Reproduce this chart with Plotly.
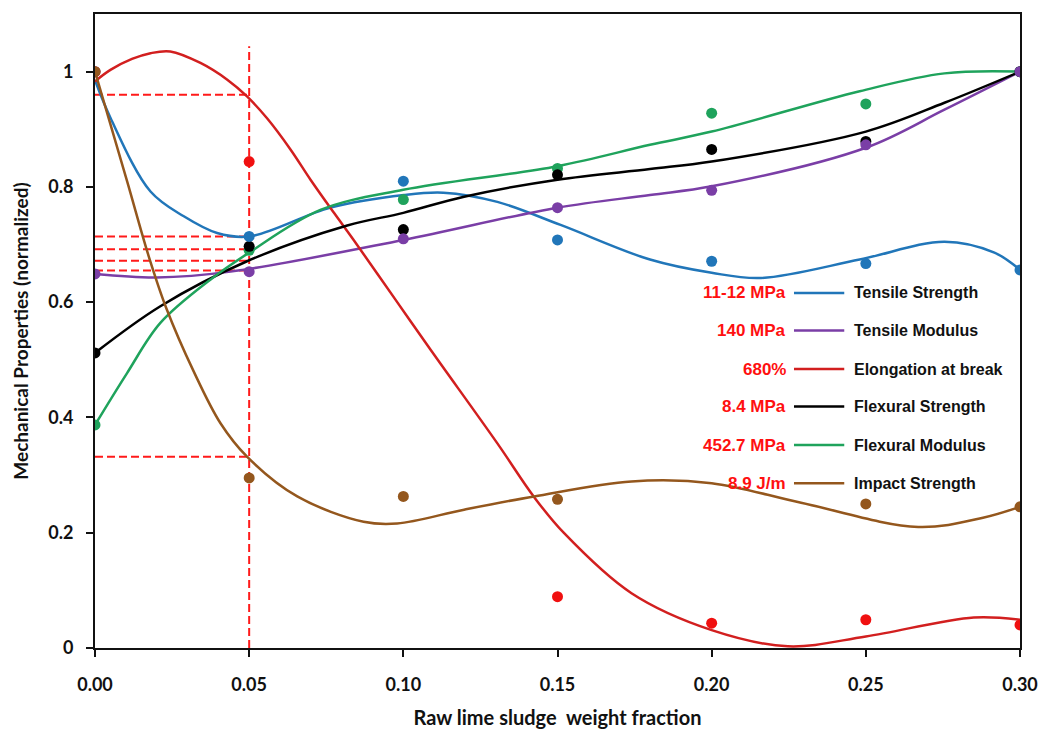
import plotly.graph_objects as go

# ---- measured data points (normalized) ----
x_frac = [0.00, 0.05, 0.10, 0.15, 0.20, 0.25, 0.30]
tensile_strength = [1.0, 0.714, 0.810, 0.708, 0.671, 0.667, 0.656]
tensile_modulus = [0.649, 0.653, 0.710, 0.764, 0.794, 0.873, 1.0]
elongation = [1.0, 0.844, None, 0.089, 0.043, 0.049, 0.040]
flexural_strength = [0.512, 0.697, 0.726, 0.821, 0.865, 0.879, 1.0]
flexural_modulus = [0.387, 0.690, 0.778, 0.832, 0.928, 0.944, 1.0]
impact_strength = [1.0, 0.295, 0.263, 0.258, None, 0.250, 0.245]

# ---- trend curves ----
ts_tx = [0, 0.005, 0.018, 0.0288, 0.0396, 0.05, 0.0764, 0.1002, 0.113, 0.1305, 0.151, 0.180, 0.2, 0.216, 0.248, 0.2755, 0.2917, 0.3]
ts_ty = [0.985, 0.92, 0.792, 0.749, 0.72, 0.714, 0.764, 0.786, 0.79, 0.774, 0.734, 0.674, 0.651, 0.642, 0.674, 0.705, 0.686, 0.656]
tm_tx = [0, 0.02, 0.044, 0.1, 0.15, 0.18, 0.2, 0.25, 0.2755, 0.3]
tm_ty = [0.649, 0.643, 0.653, 0.708, 0.764, 0.786, 0.801, 0.868, 0.934, 1.0]
el_tx = [0, 0.005, 0.012, 0.018, 0.0244, 0.0342, 0.0429, 0.0493, 0.0558, 0.0634, 0.0699, 0.0775, 0.084,
         0.0975, 0.1089, 0.1305, 0.1424, 0.152, 0.174, 0.2, 0.2247, 0.25, 0.285, 0.3]
el_ty = [0.983, 1.003, 1.022, 1.032, 1.035, 1.015, 0.986, 0.957, 0.919, 0.865, 0.8125, 0.755, 0.707,
         0.604, 0.517, 0.355, 0.262, 0.2, 0.095, 0.031, 0.003, 0.020, 0.053, 0.049]
fs_tx = [0, 0.0212, 0.0493, 0.0818, 0.1, 0.1197, 0.15, 0.18, 0.2, 0.25, 0.2755, 0.3]
fs_ty = [0.512, 0.593, 0.671, 0.733, 0.755, 0.783, 0.8125, 0.831, 0.844, 0.896, 0.946, 1.0]
fm_tx = [0, 0.0104, 0.0212, 0.0374, 0.05, 0.0731, 0.1, 0.15, 0.18, 0.2, 0.248, 0.2755, 0.3]
fm_ty = [0.387, 0.477, 0.564, 0.639, 0.686, 0.760, 0.795, 0.836, 0.873, 0.896, 0.966, 0.997, 1.0]
is_tx = [0, 0.0104, 0.0174, 0.0231, 0.032, 0.0407, 0.0493, 0.0656, 0.0871, 0.098, 0.1197, 0.1424, 0.174, 0.2, 0.229, 0.267, 0.288, 0.3]
is_ty = [1.0, 0.81, 0.68, 0.59, 0.48, 0.39, 0.332, 0.263, 0.219, 0.216, 0.240, 0.263, 0.289, 0.286, 0.252, 0.21, 0.226, 0.245]

# reference (dashed) levels at 5 wt%
ref_x = 0.05
ref_levels = [0.96, 0.714, 0.692, 0.672, 0.655, 0.332]
ref_top = 1.044

series_names = ["Tensile Strength", "Tensile Modulus", "Elongation at break",
                "Flexural Strength", "Flexural Modulus", "Impact Strength"]
series_values = ["11-12 MPa", "140 MPa", "680%", "8.4 MPa", "452.7 MPa", "8.9 J/m"]

x_ticks = [0.00, 0.05, 0.10, 0.15, 0.20, 0.25, 0.30]
x_tick_labels = ["0.00", "0.05", "0.10", "0.15", "0.20", "0.25", "0.30"]
y_ticks = [0, 0.2, 0.4, 0.6, 0.8, 1.0]
y_tick_labels = ["0", "0.2", "0.4", "0.6", "0.8", "1"]

line_colors = ["#2176b9", "#7a3ea6", "#d21f1f", "#000000", "#1fa35c", "#94571d"]
dot_colors = ["#2176b9", "#7a3ea6", "#f01010", "#000000", "#1fa35c", "#94571d"]

points = [tensile_strength, tensile_modulus, elongation, flexural_strength, flexural_modulus, impact_strength]
trends = [(ts_tx, ts_ty), (tm_tx, tm_ty), (el_tx, el_ty), (fs_tx, fs_ty), (fm_tx, fm_ty), (is_tx, is_ty)]

fig = go.Figure()

# dashed reference lines
for lv in ref_levels:
    fig.add_trace(go.Scatter(x=[0, ref_x], y=[lv, lv], mode="lines",
                             line=dict(color="#ff1a1a", width=2, dash="8px,4px"),
                             showlegend=False, hoverinfo="skip"))
fig.add_trace(go.Scatter(x=[ref_x, ref_x], y=[0, ref_top], mode="lines",
                         line=dict(color="#ff1a1a", width=2, dash="8px,4px"),
                         showlegend=False, hoverinfo="skip"))

for (tx, ty), c, n in zip(trends, line_colors, series_names):
    fig.add_trace(go.Scatter(x=tx, y=ty, mode="lines", name=n,
                             line=dict(color=c, width=2.5, shape="spline", smoothing=1.0),
                             showlegend=False))

order = [4, 3, 1, 0, 2, 5]
for i in order:
    fig.add_trace(go.Scatter(x=x_frac, y=points[i], mode="markers", name=series_names[i],
                             marker=dict(color=dot_colors[i], size=11),
                             showlegend=False))

# custom legend
leg_y = [0.616, 0.551, 0.484, 0.419, 0.352, 0.286]
annotations = []
shapes = []
for i in range(6):
    annotations.append(dict(x=0.2249, y=leg_y[i], xref="x", yref="y", xanchor="right", yanchor="middle",
                            text="<b>" + series_values[i] + "</b>", showarrow=False,
                            font=dict(family="Liberation Sans, Arial", size=17, color="#ff1010")))
    annotations.append(dict(x=0.2455, y=leg_y[i], xref="x", yref="y", xanchor="left", yanchor="middle",
                            text="<b>" + series_names[i] + "</b>", showarrow=False,
                            font=dict(family="Liberation Sans, Arial", size=16, color="#111111")))
    shapes.append(dict(type="line", xref="x", yref="y", x0=0.2267, x1=0.2430,
                       y0=leg_y[i], y1=leg_y[i], line=dict(color=line_colors[i], width=2.5)))

fig.update_layout(
    width=1043, height=733,
    margin=dict(l=95, r=23, t=14, b=85),
    paper_bgcolor="white", plot_bgcolor="white",
    showlegend=False,
    annotations=annotations,
    shapes=shapes,
    hovermode=False,
    xaxis=dict(range=[0, 0.30], tickvals=x_ticks, ticktext=x_tick_labels, automargin=False,
               showgrid=False, zeroline=False, showline=True, linecolor="#111111", linewidth=2,
               mirror=True, ticks="outside", ticklen=7, tickwidth=2, tickcolor="#111111",
               ticklabelstandoff=12,
               tickfont=dict(family="Lato, Open Sans", size=18, color="#111111", weight="bold"),
               title=dict(text="<b>Raw lime sludge  weight fraction</b>", standoff=17,
                          font=dict(family="Lato, Open Sans", size=20, color="#111111"))),
    yaxis=dict(range=[0, 1.10], tickvals=y_ticks, ticktext=y_tick_labels, automargin=False,
               showgrid=False, zeroline=False, showline=True, linecolor="#111111", linewidth=2,
               mirror=True, ticks="outside", ticklen=7, tickwidth=2, tickcolor="#111111",
               ticklabelstandoff=9,
               tickfont=dict(family="Lato, Open Sans", size=18, color="#111111", weight="bold"),
               title=dict(text="<b>Mechanical Properties (normalized)</b>", standoff=15,
                          font=dict(family="Lato, Open Sans", size=19, color="#111111"))),
)

fig.write_html("out.html", config={"displayModeBar": False, "staticPlot": True},
               post_script="document.body.style.margin='0';document.documentElement.style.overflow='hidden';")
